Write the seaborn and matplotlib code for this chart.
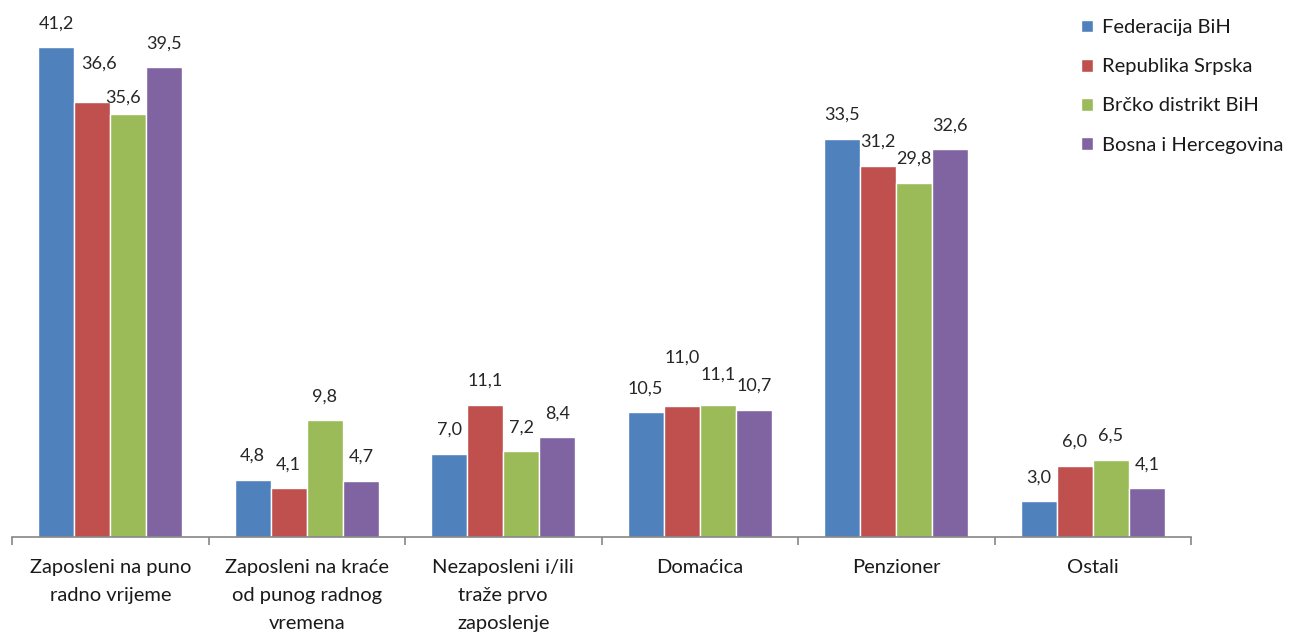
import numpy as np
import pandas as pd
import matplotlib
matplotlib.use('Agg')
import matplotlib.pyplot as plt
from matplotlib.ticker import FixedLocator, NullFormatter
import seaborn as sns

# Data
categories = ['Zaposleni na puno\nradno vrijeme',
              'Zaposleni na kraće\nod punog radnog\nvremena',
              'Nezaposleni i/ili\ntraže prvo\nzaposlenje',
              'Domaćica',
              'Penzioner',
              'Ostali']
series = ['Federacija BiH', 'Republika Srpska', 'Brčko distrikt BiH', 'Bosna i Hercegovina']
federacija = [41.2, 4.8, 7.0, 10.5, 33.5, 3.0]
republika = [36.6, 4.1, 11.1, 11.0, 31.2, 6.0]
brcko = [35.6, 9.8, 7.2, 11.1, 29.8, 6.5]
bih = [39.5, 4.7, 8.4, 10.7, 32.6, 4.1]

colors = ['#4F81BD', '#C0504D', '#9BBB59', '#8064A2']

rows = []
for name, vals in zip(series, [federacija, republika, brcko, bih]):
    for cat, v in zip(categories, vals):
        rows.append({'kategorija': cat, 'serija': name, 'vrijednost': v})
df = pd.DataFrame(rows)

sns.set_style('white')
plt.rcParams['font.family'] = ['Lato', 'DejaVu Sans']

fig = plt.figure(figsize=(12.96, 6.32), dpi=100)
ax = fig.add_axes([12 / 1296, 95 / 632, 1179 / 1296, 535 / 632])

sns.barplot(data=df, x='kategorija', y='vrijednost', hue='serija',
            order=categories, hue_order=series, palette=colors,
            width=0.735, saturation=1, ax=ax, legend=True)

ax.set_ylim(0, 45)
ax.set_xlim(-0.5, len(categories) - 0.5)

# value labels, nudged where Excel moved them apart
nudge_y = {(0, 1): 14, (0, 2): -8, (3, 1): 25, (3, 2): 6}
nudge_x = {(0, 1): 7, (0, 2): -5}
for s, cont in enumerate(ax.containers):
    for c, bar in enumerate(cont):
        h = bar.get_height()
        ax.annotate(f'{h:.1f}'.replace('.', ','),
                    (bar.get_x() + bar.get_width() / 2, h),
                    xytext=(nudge_x.get((c, s), 0), 24 + nudge_y.get((c, s), 0)),
                    textcoords='offset pixels', ha='center', va='center',
                    fontsize=13, color='#262626')

# axes styling
for side in ['left', 'right', 'top']:
    ax.spines[side].set_visible(False)
ax.spines['bottom'].set_color('#868686')
ax.spines['bottom'].set_linewidth(1.2)
ax.set_yticks([])
ax.set_ylabel('')
ax.set_xlabel('')

ax.xaxis.set_major_locator(FixedLocator(np.arange(-0.5, len(categories), 1.0)))
ax.xaxis.set_major_formatter(NullFormatter())
ax.xaxis.set_minor_locator(FixedLocator(np.arange(len(categories))))
ax.set_xticklabels(categories, minor=True)
ax.tick_params(axis='x', which='major', direction='out', length=6, width=1.2,
               color='#868686', bottom=True)
ax.tick_params(axis='x', which='minor', length=0, pad=16, labelsize=14.5,
               labelcolor='#1a1a1a')
for lbl in ax.get_xticklabels(minor=True):
    lbl.set_linespacing(1.78)
    lbl.set_ha('center')

leg = ax.legend(loc='upper left', bbox_to_anchor=(1063 / 1296, 1 - 1 / 632),
                bbox_transform=fig.transFigure, frameon=False,
                fontsize=14.5, handlelength=0.6, handleheight=0.6,
                handletextpad=0.45, labelspacing=1.1)
for t in leg.get_texts():
    t.set_color('#1a1a1a')

fig.savefig('out.png', dpi=100)
